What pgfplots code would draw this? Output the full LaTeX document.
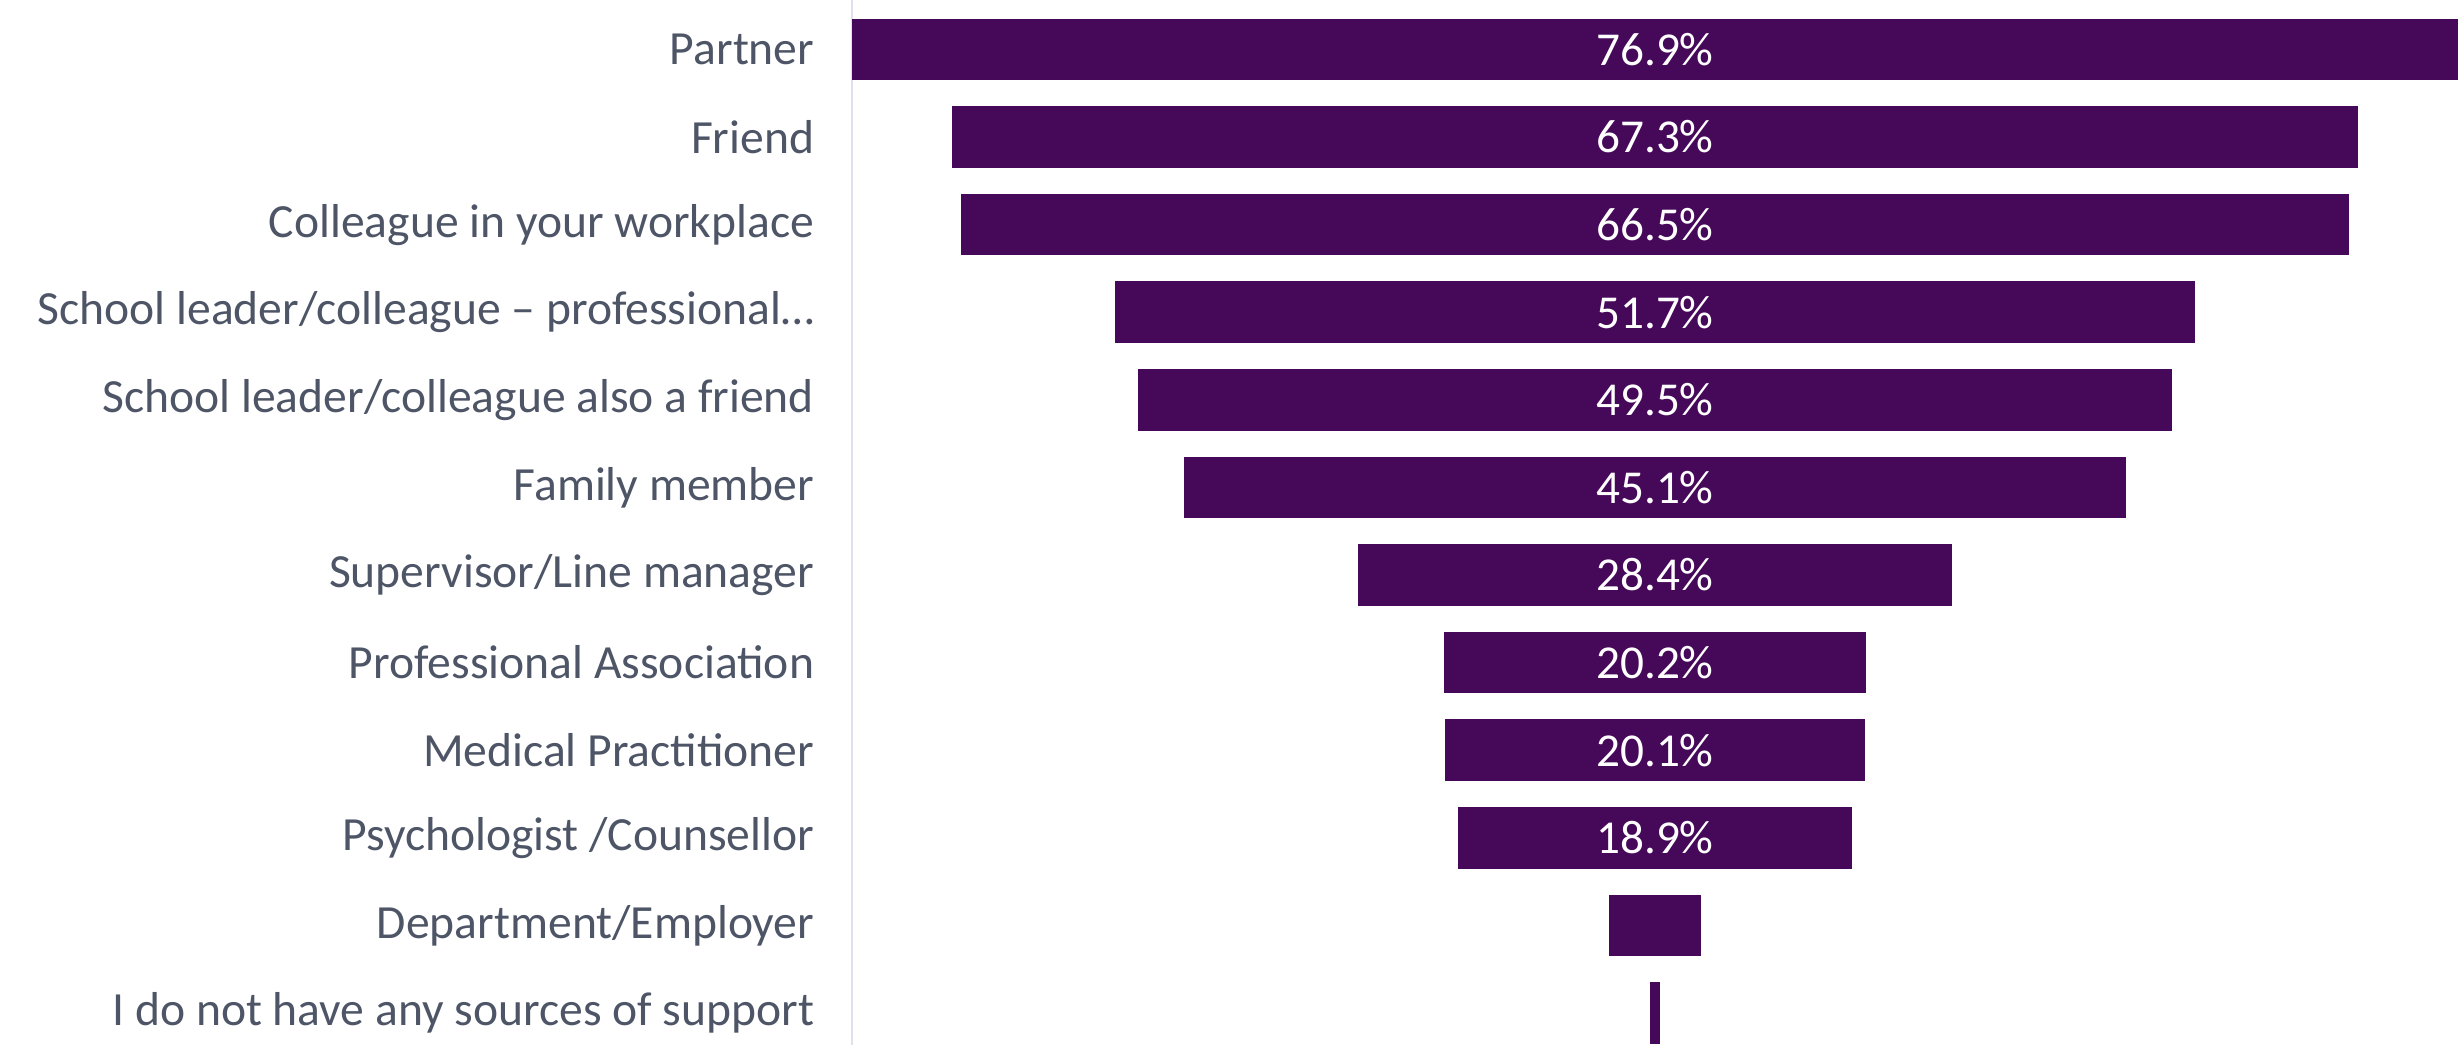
\documentclass[border=0pt]{standalone}
\usepackage{fontspec}
\setmainfont{Carlito}
\usepackage{pgfplots}
\usepackage{pgfplotstable}
\pgfplotsset{compat=1.18}

\definecolor{barc}{HTML}{46095A}
\definecolor{labc}{HTML}{4D5566}
\definecolor{axc}{HTML}{E2DFEA}

% y = row (0 at top), v = share of respondents in %
\pgfplotstableread{
y v
0 76.9
1 67.3
2 66.5
3 51.7
4 49.5
5 45.1
6 28.4
7 20.2
8 20.1
9 18.9
10 4.4
11 0.5
}\support

\begin{document}
\begin{tikzpicture}
\begin{axis}[
    scale only axis,
    width=401.5pt, height=261.25pt,
    xmin=0, xmax=76.9,
    ymin=-0.565, ymax=11.365,
    y dir=reverse,
    axis x line=none,
    axis y line*=left,
    y axis line style={draw=axc, line width=0.6pt, -},
    ytick={0,...,11},
    yticklabels={Partner, Friend, Colleague in your workplace,
      School leader/colleague – professional…,
      School leader/colleague also a friend, Family member,
      Supervisor/Line manager, Professional Association,
      Medical Practitioner, Psychologist /Counsellor,
      Department/Employer, I do not have any sources of support},
    major tick length=0pt,
    ytick style={draw=none},
    yticklabel style={font=\fontsize{11.9}{14}\selectfont, text=labc,
      inner sep=0pt, anchor=east, xshift=-9.25pt},
    no marks,
    clip=false,
]
% funnel bars: centred at 76.9/2, half-width v/2
\addplot[draw=none, mark=none,
    error bars/.cd, x dir=both, x explicit, error mark=none,
    error bar style={draw=barc, line width=15.4pt}]
  table[x expr=38.45, y=y, x error expr=\thisrow{v}/2] {\support};
% value labels
\addplot[draw=none, mark=none,
    skip coords between index={10}{12},
    point meta=explicit symbolic,
    nodes near coords={\pgfplotspointmeta\%},
    nodes near coords style={anchor=center, text=white,
      font=\fontsize{11.8}{14}\selectfont}]
  table[x expr=38.45, y=y, meta=v] {\support};
\end{axis}
\pgfresetboundingbox
\useasboundingbox (current axis.south west) ++(-213pt,0pt)
  rectangle (current axis.north east);
\end{tikzpicture}
\end{document}
